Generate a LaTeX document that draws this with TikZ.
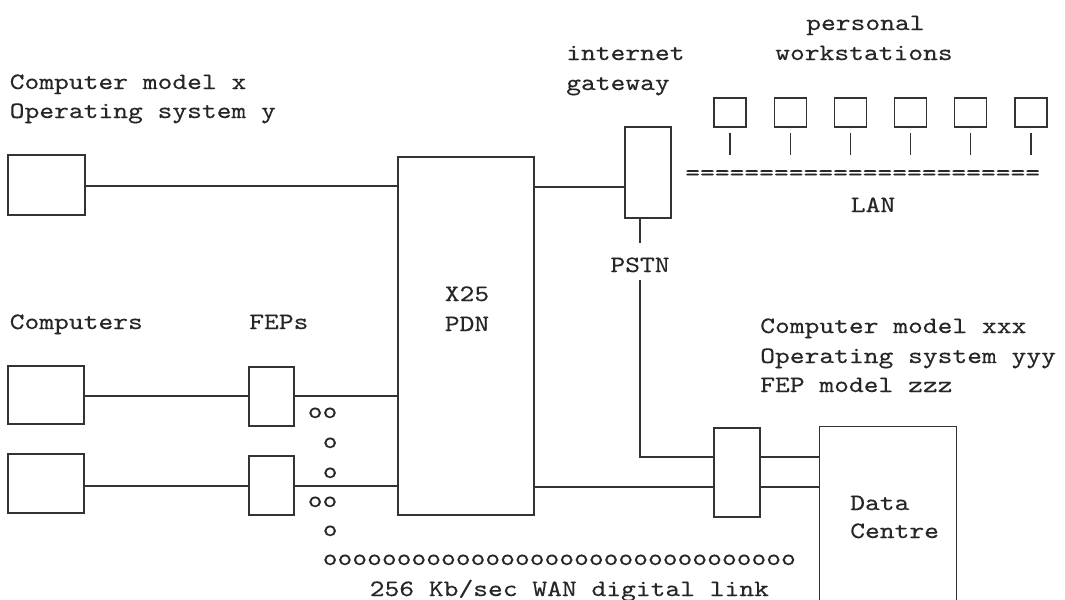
\documentclass[tikz,border=0pt]{standalone}
\usepackage{fontspec}
\setmonofont{lmmono10-regular.otf}[FakeStretch=1.2,FakeBold=0.3]
\begin{document}
\begin{tikzpicture}[x=0.75pt,y=-0.75pt,
  box/.style 2 args={draw=black!80, line width=1pt, rectangle, minimum width=#1*0.75pt, minimum height=#2*0.75pt, inner sep=0pt},
  txt/.style={font=\ttfamily\fontsize{17.6}{21}\selectfont, text=black!85, inner sep=0pt, anchor=base west},
  ctxt/.style={txt, anchor=base},
  wire/.style={draw=black!80, line width=1pt}]
\useasboundingbox (0,0) rectangle (1065,600);

% boxes
\node[box={77}{60}] (c1) at (46.5,185) {};
\node[box={136}{358}] (x25) at (466,336) {};
\node[box={46}{91}] (gw) at (648,172.5) {};
\node[box={76}{58}] (c2) at (46,395) {};
\node[box={76}{59}] (c3) at (46,483.5) {};
\node[box={45}{59}] (fep1) at (271.5,396.5) {};
\node[box={45}{59}] (fep2) at (271.5,485.5) {};
\node[box={46}{89}] (dcfep) at (737,472.5) {};
\node[box={136}{173}, draw=none] (dc) at (888,513.5) {};
\draw[wire] (dc.south west) -- (dc.north west) -- (dc.north east) -- (dc.south east);

% workstations
\foreach \i in {0,...,5}{
  \node[box={32}{29}] (ws\i) at (730+60.2*\i,112.5) {};
  \draw[wire] ([yshift=-3.75pt]ws\i.south) -- ++(0,22);
}

% connector levels
\coordinate (y1) at (0,186);
\coordinate (y2) at (0,187);
\coordinate (y3) at (0,396);
\coordinate (y4) at (0,486);
\coordinate (y5) at (0,487);
\coordinate (y6) at (0,457);
\coordinate (p1) at (640,243);
\coordinate (p2) at (640,280);
\coordinate (p3) at (640,457);

\draw[wire] (c1.east |- y1) -- (x25.west |- y1);
\draw[wire] (x25.east |- y2) -- (gw.west |- y2);
\draw[wire] (c2.east |- y3) -- (fep1.west |- y3);
\draw[wire] (fep1.east |- y3) -- (x25.west |- y3);
\draw[wire] (c3.east |- y4) -- (fep2.west |- y4);
\draw[wire] (fep2.east |- y4) -- (x25.west |- y4);
\draw[wire] (x25.east |- y5) -- (dcfep.west |- y5);
\draw[wire] (dcfep.east |- y5) -- (dc.west |- y5);
\draw[wire] (gw.south -| p1) -- (p1);
\draw[wire] (p2) -- (p3) -- (dcfep.west |- y6);
\draw[wire] (dcfep.east |- y6) -- (dc.west |- y6);

% texts
\node[txt] (t1) at (9.5,89) {Computer model x};
\node[txt] (t2) at (9.5,118) {Operating system y};
\node[txt] (tcomp) at (9.5,329) {Computers};
\node[txt] (tfep) at (249,329) {FEPs};
\node[txt] (tinet) at (566,60) {internet};
\node[txt] (tgw) at (566,90) {gateway};
\node[txt] (tpers) at (806,30) {personal};
\node[txt] (twork) at (775,60) {workstations};
\node[txt] (tlanline) at (685,180) {========================};
\node[ctxt] (tlan) at (873,212) {LAN};
\node[ctxt] (tpstn) at (640,272) {PSTN};
\node[ctxt] (tx25) at (467,301) {X25};
\node[ctxt] (tpdn) at (467,331) {PDN};
\node[txt] (r1) at (760,333) {Computer model xxx};
\node[txt] (r2) at (760,363) {Operating system yyy};
\node[txt] (r3) at (760,392) {FEP model zzz};
\node[txt] (td1) at (850,510) {Data};
\node[txt] (td2) at (850,538) {Centre};

\node[txt] (o1) at (307.5,418) {oo};
\node[txt] (o2) at (322.5,448) {o};
\node[txt] (o3) at (322.5,478) {o};
\node[txt] (o4) at (307.5,507) {oo};
\node[txt] (o5) at (322.5,536) {o};
\node[txt] (o6) at (322.5,565) {oooooooooooooooooooooooooooooooo};
\node[txt] (twan) at (369.5,596) {256 Kb/sec WAN digital link};
\end{tikzpicture}
\end{document}
